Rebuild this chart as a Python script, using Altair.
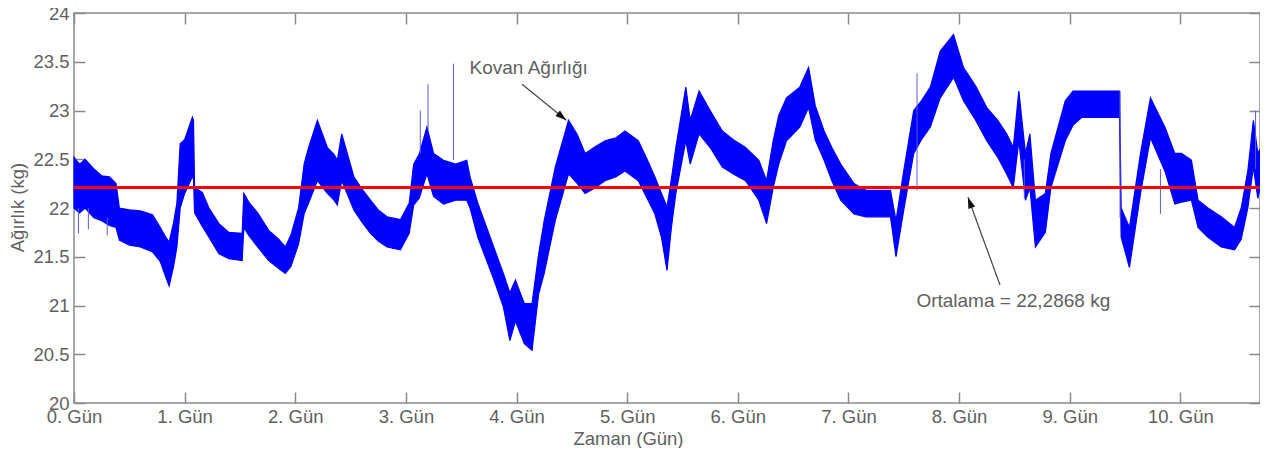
import math
import altair as alt
import pandas as pd

# ---------------- data ----------------
day = [0.00, 0.05, 0.10, 0.18, 0.25, 0.32, 0.38, 0.41, 0.50, 0.60, 0.71, 0.78, 0.83, 0.86, 0.90,
       0.93, 0.96, 1.00, 1.07, 1.08, 1.09, 1.16, 1.22, 1.31, 1.40, 1.52, 1.535, 1.58, 1.66, 1.76,
       1.85, 1.91, 1.96, 2.03, 2.08, 2.12, 2.20, 2.29, 2.35, 2.38, 2.42, 2.53, 2.60, 2.68, 2.75,
       2.83, 2.95, 3.03, 3.07, 3.12, 3.19, 3.25, 3.34, 3.45, 3.55, 3.58, 3.65, 3.73, 3.80, 3.88,
       3.94, 3.99, 4.07, 4.14, 4.20, 4.25, 4.35, 4.47, 4.55, 4.62, 4.70, 4.80, 4.90, 4.98, 5.10,
       5.18, 5.25, 5.31, 5.36, 5.40, 5.44, 5.53, 5.57, 5.65, 5.75, 5.86, 5.96, 6.07, 6.19, 6.26,
       6.32, 6.37, 6.44, 6.56, 6.64, 6.70, 6.78, 6.85, 6.93, 7.05, 7.16, 7.38, 7.43, 7.50, 7.59,
       7.66, 7.74, 7.83, 7.95, 8.04, 8.15, 8.25, 8.35, 8.43, 8.49, 8.54, 8.60, 8.64, 8.69, 8.78,
       8.83, 8.96, 9.03, 9.11, 9.45, 9.465, 9.54, 9.64, 9.73, 9.86, 9.95, 10.01, 10.10, 10.16,
       10.25, 10.37, 10.49, 10.55, 10.61, 10.66, 10.70, 10.72]
hi = [22.52, 22.45, 22.50, 22.40, 22.33, 22.32, 22.25, 22.00, 21.98, 21.97, 21.93, 21.80, 21.70, 21.65, 21.85,
      22.05, 22.66, 22.70, 22.93, 22.90, 22.21, 22.16, 22.00, 21.84, 21.75, 21.74, 22.15, 22.06, 21.95, 21.77,
      21.68, 21.60, 21.72, 22.00, 22.45, 22.62, 22.90, 22.62, 22.55, 22.49, 22.76, 22.32, 22.20, 22.08, 21.98,
      21.91, 21.88, 22.05, 22.45, 22.55, 22.83, 22.56, 22.49, 22.45, 22.49, 22.32, 22.05, 21.80, 21.58, 21.33,
      21.13, 21.26, 21.02, 21.02, 21.53, 21.87, 22.42, 22.90, 22.75, 22.56, 22.62, 22.69, 22.72, 22.79, 22.69,
      22.50, 22.32, 22.15, 22.01, 22.30, 22.62, 23.24, 22.90, 23.20, 23.00, 22.79, 22.70, 22.62, 22.49, 22.28,
      22.69, 22.95, 23.13, 23.24, 23.44, 23.05, 22.79, 22.62, 22.45, 22.25, 22.18, 22.18, 21.87, 22.38, 23.00,
      23.10, 23.24, 23.61, 23.78, 23.44, 23.25, 23.03, 22.90, 22.76, 22.62, 23.20, 22.56, 22.76, 22.08, 22.15,
      22.56, 23.10, 23.20, 23.20, 23.20, 22.00, 21.80, 22.56, 23.13, 22.83, 22.56, 22.56, 22.49, 22.08,
      22.00, 21.91, 21.80, 22.00, 22.38, 22.90, 22.56, 22.60]
lo = [22.00, 21.95, 22.00, 21.90, 21.87, 21.82, 21.80, 21.67, 21.62, 21.60, 21.55, 21.45, 21.29, 21.20, 21.40,
      21.60, 22.00, 22.15, 22.32, 22.30, 21.95, 21.81, 21.70, 21.53, 21.48, 21.46, 21.80, 21.72, 21.60, 21.46,
      21.38, 21.33, 21.40, 21.63, 21.94, 22.05, 22.28, 22.15, 22.08, 22.03, 22.28, 21.98, 21.86, 21.74, 21.66,
      21.60, 21.57, 21.74, 22.03, 22.10, 22.35, 22.12, 22.04, 22.08, 22.08, 22.00, 21.70, 21.46, 21.25, 20.99,
      20.64, 20.84, 20.61, 20.54, 21.12, 21.33, 21.87, 22.35, 22.25, 22.15, 22.20, 22.28, 22.32, 22.38, 22.28,
      22.10, 21.94, 21.70, 21.36, 21.80, 22.15, 22.69, 22.45, 22.76, 22.62, 22.42, 22.35, 22.28, 22.08, 21.84,
      22.21, 22.45, 22.69, 22.83, 23.03, 22.70, 22.49, 22.28, 22.08, 21.94, 21.91, 21.91, 21.50, 21.98, 22.56,
      22.70, 22.83, 23.13, 23.34, 23.10, 22.90, 22.69, 22.52, 22.35, 22.21, 22.69, 22.08, 22.21, 21.60, 21.75,
      22.21, 22.69, 22.85, 22.93, 22.93, 21.70, 21.39, 22.15, 22.72, 22.38, 22.04, 22.06, 22.08, 21.80,
      21.70, 21.60, 21.57, 21.68, 22.00, 22.42, 22.10, 22.20]

# thin single-sample spikes
spike_day = [0.04, 0.13, 0.30, 3.13, 3.20, 3.43, 7.62, 8.59, 9.455, 9.82, 10.68]
spike_lo = [21.74, 21.78, 21.72, 22.56, 22.80, 22.49, 22.18, 22.10, 21.90, 21.94, 22.40]
spike_hi = [22.00, 22.00, 21.90, 23.00, 23.27, 23.48, 23.38, 22.50, 23.20, 22.40, 23.00]

mean_value = 22.21
x_max = 10.72

annot_text = ["Kovan Ağırlığı", "Ortalama = 22,2868 kg"]
annot_x = [4.11, 8.49]
annot_y = [23.44, 21.05]

arrow_x0 = [4.05, 8.37]
arrow_y0 = [23.27, 21.21]
arrow_x1 = [4.45, 8.08]
arrow_y1 = [22.90, 22.11]

x_ticks = list(range(0, 11))
y_ticks = [20, 20.5, 21, 21.5, 22, 22.5, 23, 23.5, 24]

# ---------------- layout ----------------
W, H = 1186, 390
FONT = "Liberation Sans"
GRAY = "#5f5f5f"
AXC = "#8a8a8a"

band = pd.DataFrame({"day": day, "hi": hi, "lo": lo})
spikes = pd.DataFrame({"day": spike_day, "lo": spike_lo, "hi": spike_hi})
mean_df = pd.DataFrame({"x0": [0.0], "x1": [x_max], "y": [mean_value]})
annot = pd.DataFrame({"x": annot_x, "y": annot_y, "t": annot_text})

px_day = W / x_max
px_kg = H / 4.0
angles = []
for a, b, c, d in zip(arrow_x0, arrow_y0, arrow_x1, arrow_y1):
    dx = (c - a) * px_day
    dy = -(d - b) * px_kg
    angles.append(math.degrees(math.atan2(dx, -dy)) % 360)
arrows = pd.DataFrame({"x0": arrow_x0, "y0": arrow_y0, "x1": arrow_x1, "y1": arrow_y1, "ang": angles})


def xs():
    return alt.Scale(domain=[0, x_max], nice=False, zero=False)


def ys():
    return alt.Scale(domain=[20, 24], nice=False, zero=False)


tick_common = dict(labels=False, ticks=True, tickSize=11, tickColor=AXC, tickWidth=1.5,
                   domain=False, grid=False, title=None)

# main band with labelled axes
band_layer = alt.Chart(band).mark_area(
    color="#0000ff", opacity=1, stroke="#0000ff", strokeWidth=1.2
).encode(
    x=alt.X("day:Q", scale=xs(), axis=alt.Axis(
        orient="bottom", values=x_ticks, labelExpr="datum.value + '. Gün'",
        ticks=False, tickSize=0, domain=False, grid=False, labelPadding=4,
        labelFont=FONT, labelFontSize=18.5, labelColor=GRAY, labelFlush=False,
        title="Zaman (Gün)", titleFont=FONT, titleFontSize=18.5, titleFontWeight="normal",
        titleColor=GRAY, titleX=554, titleY=35, titleAlign="center", titleBaseline="middle")),
    y=alt.Y("hi:Q", scale=ys(), axis=alt.Axis(
        orient="left", values=y_ticks, format=".1~f", ticks=False, tickSize=0, domain=False,
        grid=False, labelPadding=5, labelFont=FONT, labelFontSize=18.5, labelColor=GRAY,
        labelFlush=False,
        title="Ağırlık (kg)", titleFont=FONT, titleFontSize=18.5, titleFontWeight="normal",
        titleColor=GRAY, titleX=-57, titleY=194, titleAngle=270, titleAlign="center",
        titleBaseline="middle")),
    y2="lo:Q",
)

# spikes, carrying inward ticks on bottom and left edges
spike_layer = alt.Chart(spikes).mark_rule(color="#5a5ad8", strokeWidth=1).encode(
    x=alt.X("day:Q", scale=xs(), axis=alt.Axis(orient="top", offset=-H, values=x_ticks, **tick_common)),
    y=alt.Y("lo:Q", scale=ys(), axis=alt.Axis(orient="right", offset=-W, values=y_ticks, **tick_common)),
    y2="hi:Q",
)

# mean line, carrying inward ticks on top and right edges
mean_layer = alt.Chart(mean_df).mark_rule(color="#ff0000", strokeWidth=3).encode(
    x=alt.X("x0:Q", scale=xs(), axis=alt.Axis(orient="bottom", offset=-H, values=x_ticks, **tick_common)),
    x2="x1:Q",
    y=alt.Y("y:Q", scale=ys(), axis=alt.Axis(orient="left", offset=-W, values=y_ticks, **tick_common)),
)

arrow_lines = alt.Chart(arrows).mark_rule(color="#444444", strokeWidth=1.2).encode(
    x=alt.X("x0:Q", scale=xs(), axis=None),
    y=alt.Y("y0:Q", scale=ys(), axis=None),
    x2="x1:Q",
    y2="y1:Q",
)

arrow_heads = alt.Chart(arrows).mark_point(
    shape="M0,0L-0.6,1.85L0.6,1.85Z", filled=True, size=144, color="#111111", opacity=1, strokeWidth=0
).encode(
    x=alt.X("x1:Q", scale=xs(), axis=None),
    y=alt.Y("y1:Q", scale=ys(), axis=None),
    angle=alt.Angle("ang:Q", scale=None),
)

text_layer = alt.Chart(annot).mark_text(
    font=FONT, fontSize=19, color=GRAY, align="center", baseline="middle"
).encode(
    x=alt.X("x:Q", scale=xs(), axis=None),
    y=alt.Y("y:Q", scale=ys(), axis=None),
    text="t:N",
)

chart = alt.layer(
    band_layer, spike_layer, mean_layer, arrow_lines, arrow_heads, text_layer
).resolve_scale(
    x="independent", y="independent"
).properties(
    width=W, height=H,
    autosize=alt.AutoSizeParams(type="none"),
    padding={"left": 66, "top": 5, "right": 0, "bottom": 45},
    background="white",
).configure_view(
    stroke=AXC, strokeWidth=1.5
)

chart.save("out.html", embed_options={"renderer": "svg", "actions": False})
